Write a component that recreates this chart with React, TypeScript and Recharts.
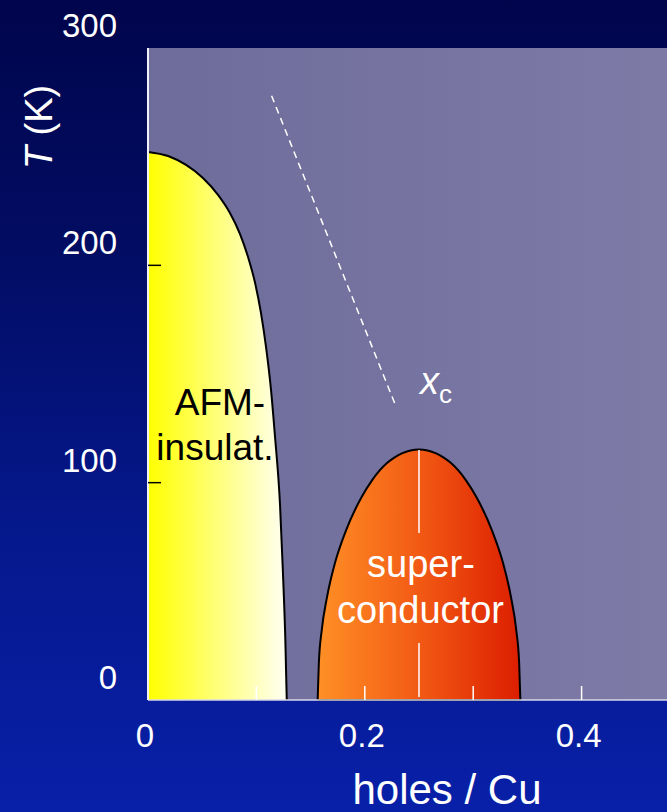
import React from "react";
import {
  ComposedChart,
  Area,
  XAxis,
  YAxis,
  CartesianGrid,
  ReferenceLine,
  ReferenceDot,
  Label,
} from "recharts";

const FONT = '"Liberation Sans", Arial, Helvetica, sans-serif';

// Axis ranges and ticks
const X_DOMAIN = [0, 0.5];
const Y_DOMAIN = [0, 300];
const xTicks = [0, 0.1, 0.2, 0.3, 0.4, 0.5];
const xTickLabels = [0, 0.2, 0.4];
const yTicks = [0, 100, 200, 300];

// Néel line bounding the antiferromagnetic insulator (holes per Cu, kelvin)
const afmDoping = [0, 0.0185, 0.0351, 0.0507, 0.0646, 0.0756, 0.0849, 0.0923, 0.0988, 0.1042, 0.1089, 0.1135, 0.1172, 0.1218, 0.1245, 0.1267, 0.128];
const afmTemp = [252.2, 250.3, 246.2, 240.2, 232.4, 224.1, 214.4, 203.8, 191.9, 178.1, 162.4, 142.6, 121, 89.7, 58.4, 27.6, 0];

// Superconducting dome Tc(p)
const scDoping = [
  0.1565, 0.1576, 0.1603, 0.1652, 0.1724, 0.1828, 0.1972, 0.2068, 0.2202, 0.2272, 0.2342, 0.25,
  0.2658, 0.2728, 0.2798, 0.2932, 0.3028, 0.3172, 0.3276, 0.3348, 0.3397, 0.3424, 0.3435,
];
const scTemp = [
  0, 16.9, 32.2, 47.5, 62.9, 78.2, 93.5, 101.2, 108.9, 111.5, 113.5, 115.3,
  113.5, 111.5, 108.9, 101.2, 93.5, 78.2, 62.9, 47.5, 32.2, 16.9, 0,
];

// Crossover line ending at x_c
const xcDoping = [0.114, 0.228];
const xcTemp = [278, 136];

// Optimal doping marker inside the dome (two pieces around the label)
const optimalDoping = 0.25;
const optimalLower = [1.4, 26.2];
const optimalUpper = [76.8, 115];

const afmData = afmDoping.map((x, i) => ({ x, T: afmTemp[i] }));
const scData = scDoping.map((x, i) => ({ x, T: scTemp[i] }));

type Note = { text: string; x: number; T: number; color: string; size: number };
const phaseNotes: Note[] = [
  { text: "AFM-", x: 0.0664, T: 131, color: "#000", size: 37 },
  { text: "insulat.", x: 0.0618, T: 110.4, color: "#000", size: 37 },
  { text: "super-", x: 0.2518, T: 56.7, color: "#fff", size: 38 },
  { text: "conductor", x: 0.2514, T: 35.3, color: "#fff", size: 38 },
];
const xcNote = { x: 0.251, T: 141 };

const NoteText = (props: any) => {
  const { viewBox, text, color, size } = props;
  return (
    <text x={viewBox.x} y={viewBox.y} textAnchor="middle" fill={color} fontSize={size} fontFamily={FONT}>
      {text}
    </text>
  );
};

const XcText = (props: any) => {
  const { viewBox } = props;
  return (
    <text x={viewBox.x} y={viewBox.y} textAnchor="start" fill="#fff" fontFamily={FONT}>
      <tspan fontStyle="italic" fontSize={38}>x</tspan>
      <tspan fontSize={26} dy={9}>c</tspan>
    </text>
  );
};

const YTick = (props: any) => {
  const { x, y, payload } = props;
  const v = payload.value;
  const inner = v > Y_DOMAIN[0] && v < Y_DOMAIN[1];
  return (
    <g>
      {inner && <line x1={x} x2={x + 13} y1={y} y2={y} stroke="#000" strokeWidth={1.5} />}
      <text x={x - 31} y={y - 11} textAnchor="end" fill="#fff" fontSize={33} fontFamily={FONT}>
        {v}
      </text>
    </g>
  );
};

const XTickBottom = (props: any) => {
  const { x, y, payload } = props;
  const v = payload.value;
  return (
    <g>
      {v > X_DOMAIN[0] && <line x1={x} x2={x} y1={y} y2={y - 14} stroke="#fff" strokeWidth={1.5} />}
      {xTickLabels.includes(v) && (
        <text x={x - 3} y={y + 47} textAnchor="middle" fill="#fff" fontSize={33} fontFamily={FONT}>
          {v}
        </text>
      )}
    </g>
  );
};

const XTickTop = (props: any) => {
  const { x, y, payload } = props;
  const v = payload.value;
  if (!(v > X_DOMAIN[0])) return <g />;
  return <line x1={x} x2={x} y1={y} y2={y + 19} stroke="#fff" strokeWidth={2} />;
};

const YTitle = (props: any) => {
  const { viewBox } = props;
  const cx = viewBox.x + 52;
  const cy = viewBox.y + 79;
  return (
    <text x={cx} y={cy} textAnchor="middle" fill="#fff" fontSize={38} fontFamily={FONT} transform={`rotate(-90, ${cx}, ${cy})`}>
      <tspan fontStyle="italic">T</tspan>
      <tspan> (K)</tspan>
    </text>
  );
};

const XTitle = (props: any) => {
  const { viewBox } = props;
  return (
    <text x={viewBox.x + 299} y={viewBox.y + 104} textAnchor="middle" fill="#fff" fontSize={42} fontFamily={FONT}>
      holes / Cu
    </text>
  );
};

export default function App() {
  return (
    <div
      style={{
        position: "fixed",
        left: 0,
        top: 0,
        width: 667,
        height: 812,
        overflow: "hidden",
        background: "linear-gradient(to bottom, #00054c 0%, #020c62 30%, #051789 62%, #0820a8 100%)",
      }}
    >
      <ComposedChart width={700} height={812} margin={{ top: 48, right: 10, bottom: 0, left: 0 }}>
        <defs>
          <linearGradient id="plotBg" x1="0" y1="0" x2="1" y2="0">
            <stop offset="0%" stopColor="#6e6c9a" />
            <stop offset="100%" stopColor="#7e7ba7" />
          </linearGradient>
          <linearGradient id="afmFill" x1="0" y1="0" x2="1" y2="0">
            <stop offset="0%" stopColor="#ffff00" />
            <stop offset="100%" stopColor="#fffff4" />
          </linearGradient>
          <linearGradient id="scFill" x1="0" y1="0" x2="1" y2="0">
            <stop offset="0%" stopColor="#ff9026" />
            <stop offset="50%" stopColor="#f25a14" />
            <stop offset="100%" stopColor="#dc1e00" />
          </linearGradient>
        </defs>
        <CartesianGrid horizontal={false} vertical={false} fill="url(#plotBg)" />
        <XAxis
          xAxisId={0}
          type="number"
          dataKey="x"
          domain={X_DOMAIN}
          ticks={xTicks}
          interval={0}
          allowDataOverflow
          height={112}
          tickSize={0}
          tickMargin={0}
          tick={<XTickBottom />}
          axisLine={{ stroke: "#d8d8ea", strokeWidth: 1.5 }}
        >
          <Label content={<XTitle />} />
        </XAxis>
        <XAxis
          xAxisId="top"
          orientation="top"
          type="number"
          dataKey="x"
          domain={X_DOMAIN}
          ticks={xTicks}
          interval={0}
          allowDataOverflow
          height={0}
          tickSize={0}
          tickMargin={0}
          tick={<XTickTop />}
          axisLine={{ stroke: "#fff", strokeWidth: 3 }}
        />
        <YAxis
          type="number"
          domain={Y_DOMAIN}
          ticks={yTicks}
          interval={0}
          allowDataOverflow
          width={148}
          tickSize={0}
          tickMargin={0}
          tick={<YTick />}
          axisLine={{ stroke: "#f0f0f8", strokeWidth: 2 }}
        >
          <Label content={<YTitle />} />
        </YAxis>

        <Area
          data={afmData}
          dataKey="T"
          type="monotone"
          stroke="#000"
          strokeWidth={2}
          fill="url(#afmFill)"
          fillOpacity={1}
          dot={false}
          activeDot={false}
          isAnimationActive={false}
        />
        <Area
          data={scData}
          dataKey="T"
          type="monotone"
          stroke="#000"
          strokeWidth={2}
          fill="url(#scFill)"
          fillOpacity={1}
          dot={false}
          activeDot={false}
          isAnimationActive={false}
        />

        <ReferenceLine
          segment={[{ x: scDoping[0], y: 0 }, { x: scDoping[scDoping.length - 1], y: 0 }]}
          stroke="#000"
          strokeWidth={2}
          ifOverflow="visible"
        />
        <ReferenceLine
          segment={[{ x: optimalDoping, y: optimalLower[0] }, { x: optimalDoping, y: optimalLower[1] }]}
          stroke="#fff"
          strokeWidth={1.5}
        />
        <ReferenceLine
          segment={[{ x: optimalDoping, y: optimalUpper[0] }, { x: optimalDoping, y: optimalUpper[1] }]}
          stroke="#fff"
          strokeWidth={1.5}
        />
        <ReferenceLine
          segment={[{ x: xcDoping[0], y: xcTemp[0] }, { x: xcDoping[1], y: xcTemp[1] }]}
          stroke="#fff"
          strokeWidth={1.5}
          strokeDasharray="7 5"
        />

        {phaseNotes.map((n) => (
          <ReferenceDot
            key={n.text}
            x={n.x}
            y={n.T}
            r={0}
            fill="none"
            stroke="none"
            ifOverflow="visible"
            label={<NoteText text={n.text} color={n.color} size={n.size} />}
          />
        ))}
        <ReferenceDot
          x={xcNote.x}
          y={xcNote.T}
          r={0}
          fill="none"
          stroke="none"
          ifOverflow="visible"
          label={<XcText />}
        />
      </ComposedChart>
    </div>
  );
}
